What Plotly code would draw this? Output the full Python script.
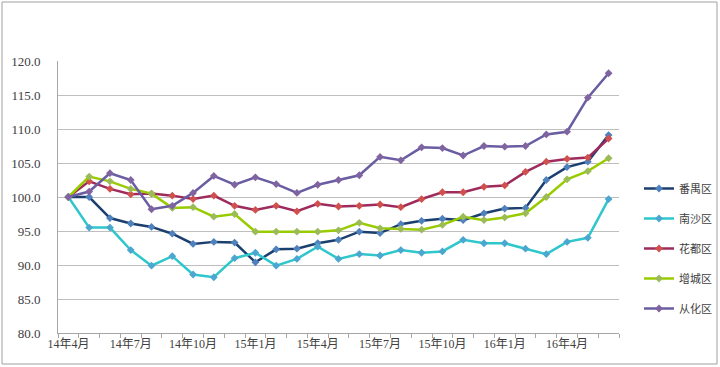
import plotly.graph_objects as go

months = ["14年4月", "14年5月", "14年6月", "14年7月", "14年8月", "14年9月", "14年10月",
          "14年11月", "14年12月", "15年1月", "15年2月", "15年3月", "15年4月", "15年5月",
          "15年6月", "15年7月", "15年8月", "15年9月", "15年10月", "15年11月", "15年12月",
          "16年1月", "16年2月", "16年3月", "16年4月", "16年5月", "16年6月"]
label_months = ["14年4月", "14年7月", "14年10月", "15年1月", "15年4月", "15年7月",
                "15年10月", "16年1月", "16年4月"]

panyu = [100, 100, 96.9, 96.1, 95.6, 94.6, 93.1, 93.4, 93.3, 90.4, 92.3, 92.4, 93.2, 93.7,
         94.9, 94.7, 96.0, 96.5, 96.8, 96.6, 97.6, 98.3, 98.4, 102.5, 104.4, 105.2, 109.1]
nansha = [100, 95.5, 95.5, 92.2, 89.9, 91.3, 88.6, 88.2, 91.0, 91.8, 89.9, 90.9, 92.7, 90.9,
          91.6, 91.4, 92.2, 91.8, 92.0, 93.7, 93.2, 93.2, 92.4, 91.6, 93.4, 94.0, 99.7]
huadu = [100, 102.3, 101.2, 100.4, 100.5, 100.2, 99.7, 100.2, 98.7, 98.1, 98.7, 97.9, 99.0, 98.6,
         98.7, 98.9, 98.5, 99.7, 100.7, 100.7, 101.5, 101.7, 103.7, 105.2, 105.6, 105.8, 108.6]
zengcheng = [100, 103.0, 102.3, 101.2, 100.5, 98.4, 98.5, 97.1, 97.5, 94.9, 94.9, 94.9, 94.9, 95.1,
             96.2, 95.4, 95.3, 95.2, 95.9, 97.1, 96.6, 97.0, 97.6, 100.0, 102.6, 103.8, 105.7]
conghua = [100, 100.8, 103.5, 102.5, 98.2, 98.7, 100.6, 103.1, 101.8, 102.9, 101.9, 100.6, 101.8, 102.5,
           103.2, 105.9, 105.4, 107.3, 107.2, 106.1, 107.5, 107.4, 107.5, 109.2, 109.6, 114.6, 118.2]

series = [
    ("番禺区", panyu, "#1B3F6E", "#4F81BD"),
    ("南沙区", nansha, "#2FC6CC", "#4BA6D0"),
    ("花都区", huadu, "#9E2B5C", "#D0504D"),
    ("增城区", zengcheng, "#99CC00", "#9BBB59"),
    ("从化区", conghua, "#6A5DA2", "#8064A2"),
]

fig = go.Figure()
for i, (name, vals, lc, mc) in enumerate(series):
    fig.add_trace(go.Scatter(
        x=months, y=vals, name=name, mode="lines+markers",
        line=dict(color=lc, width=2.5),
        marker=dict(symbol="diamond", size=6, color=mc),
        legendgroup="g%d" % i,
    ))

W, H = 720, 367
L, R, T, B = 58, 619, 61, 333
fig.update_layout(
    width=W, height=H,
    margin=dict(l=L, r=W - R, t=T, b=H - B, autoexpand=False),
    paper_bgcolor="white", plot_bgcolor="white",
    font=dict(family="Liberation Serif, Noto Sans CJK SC", size=12, color="#404040"),
    showlegend=True,
    legend=dict(x=(639 - L) / (R - L), xanchor="left", y=(B - 174) / (B - T), yanchor="top",
                font=dict(family="Noto Sans CJK SC", size=11, color="#404040"),
                tracegroupgap=11, itemwidth=30, bgcolor="rgba(0,0,0,0)"),
)
ticktext = [m if m in label_months else "" for m in months]
fig.update_xaxes(
    type="category", tickmode="array", tickvals=months, ticktext=ticktext,
    tickson="boundaries", ticks="outside", ticklen=4, tickcolor="#A6A6A6",
    showline=True, linecolor="#A6A6A6", linewidth=1, showgrid=False,
    tickangle=0, range=[-0.5, len(months) - 0.5],
    tickfont=dict(family="Liberation Serif, Noto Sans CJK SC", size=12, color="#404040"),
)
fig.update_yaxes(
    range=[80, 120], dtick=5, tick0=80, tickformat=".1f",
    showgrid=True, gridcolor="#BFBFBF", gridwidth=1,
    showline=True, linecolor="#A6A6A6", linewidth=1, ticks="", ticklabelstandoff=14,
    zeroline=False,
    tickfont=dict(family="Liberation Serif", size=13, color="#404040"),
)
# outer chart border
pw, ph = R - L, B - T
fig.add_shape(type="rect", xref="paper", yref="paper",
              x0=(2 - L) / pw, x1=(717 - L) / pw, y0=(B - 364) / ph, y1=(B - 2) / ph,
              line=dict(color="#A0A0A0", width=1), layer="below")

fig.write_html("out.html", config={"displayModeBar": False},
               post_script="document.body.style.margin='0';document.body.style.overflow='hidden';")
